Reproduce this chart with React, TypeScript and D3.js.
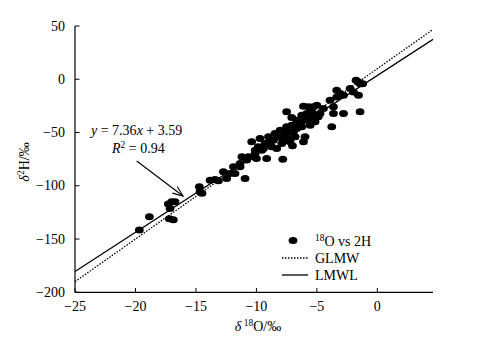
import React from "react";
import * as d3 from "d3";

const xTicks = [-25, -20, -15, -10, -5, 0];
const yTicks = [50, 0, -50, -100, -150, -200];

const d18O = [
  -19.68, -18.85, -17.28, -17.0, -16.73, -17.14, -17.2, -16.87, -14.72, -14.66,
  -14.5, -13.83, -13.42, -13.14, -12.73, -12.46, -12.18, -11.9, -11.77, -11.35,
  -11.2, -10.94, -10.8, -10.39, -10.25, -10.1, -10.0, -9.84, -9.7, -9.56,
  -9.28, -9.15, -9.0, -8.73, -8.6, -8.32, -8.46, -8.04, -7.9, -7.82,
  -7.63, -7.5, -7.5, -7.35, -7.22, -7.08, -7.08, -7.02, -6.8, -6.67,
  -6.39, -6.25, -6.11, -6.11, -5.98, -5.98, -5.84, -5.7, -5.56, -5.43,
  -5.15, -5.15, -5.01, -4.74, -4.46, -3.91, -3.77, -3.63, -3.63, -3.36,
  -3.36, -2.8, -2.8, -2.25, -1.98, -1.76, -1.56, -1.43, -1.56, -1.43,
  -1.21, -8.87, -9.42, -10.1, -7.77, -6.67, -5.56, -4.88, -6.25, -5.29,
  -7.22, -6.94, -7.5, -8.18, -11.35, -10.66, -3.08,
];
const d2H = [
  -141.6, -129.1, -117.2, -115.0, -115.0, -121.3, -131.0, -132.0, -101.0, -105.6,
  -107.0, -94.7, -94.0, -95.3, -86.9, -93.1, -88.4, -82.2, -88.4, -79.0,
  -72.8, -93.1, -75.9, -58.75, -72.8, -69.7, -74.4, -63.4, -55.6, -66.6,
  -60.3, -74.4, -54.0, -63.4, -57.2, -65.0, -50.9, -47.8, -60.3, -75.0,
  -50.9, -30.6, -44.7, -55.6, -49.4, -43.1, -35.9, -62.5, -54.0, -46.3,
  -41.6, -44.7, -25.3, -58.75, -38.4, -54.0, -32.2, -25.9, -36.9, -30.6,
  -33.75, -40.0, -24.4, -32.2, -27.5, -19.7, -44.7, -32.2, -25.9, -10.3,
  -16.6, -32.2, -15.0, -8.75, -11.9, -0.9, -2.5, -4.1, -15.0, -30.6,
  -4.1, -58.75, -65.0, -66.6, -57.2, -38.4, -43.1, -35.3, -33.75, -25.9,
  -58.75, -49.4, -49.4, -54.0, -82.2, -72.8, -13.4,
];

const lmwl = { slope: 7.36, intercept: 3.59 };
const gmwl = { slope: 8, intercept: 10 };

const FONT = "'Liberation Serif', 'Times New Roman', serif";

export default function App() {
  const W = 494, H = 355;
  const x = d3.scaleLinear().domain([-25, 4.6]).range([75, 433]);
  const y = d3.scaleLinear().domain([-200, 50]).range([292.3, 26]);
  const xEnds = [-25, 4.6];
  const lmwlPath = d3.line<number>().x((d) => x(d)).y((d) => y(lmwl.slope * d + lmwl.intercept))(xEnds);
  const gmwlPath = d3.line<number>().x((d) => x(d)).y((d) => y(gmwl.slope * d + gmwl.intercept))(xEnds);

  const a0 = [136.7, 161], a1 = [183, 196];
  const ang = Math.atan2(a1[1] - a0[1], a1[0] - a0[0]);
  const hl = 11, ha = 0.38;
  const h1 = [a1[0] - hl * Math.cos(ang - ha), a1[1] - hl * Math.sin(ang - ha)];
  const h2 = [a1[0] - hl * Math.cos(ang + ha), a1[1] - hl * Math.sin(ang + ha)];

  const fmt = (t: number) => (t < 0 ? "\u2212" + Math.abs(t) : String(t));

  return (
    <svg width={W} height={H} style={{ position: "absolute", left: 0, top: 0, background: "#fff", fontFamily: FONT }}>
      <rect width={W} height={H} fill="#fff" />
      <path d={gmwlPath || ""} stroke="#000" strokeWidth={1.3} strokeDasharray="1.5,1.5" fill="none" />
      <path d={lmwlPath || ""} stroke="#000" strokeWidth={1.2} fill="none" />
      {d18O.map((v, i) => (
        <ellipse key={i} cx={x(v)} cy={y(d2H[i])} rx={4.4} ry={3.5} fill="#000" />
      ))}
      <line x1={75} x2={433} y1={292.3} y2={292.3} stroke="#000" strokeWidth={1.2} />
      <line x1={75} x2={75} y1={26} y2={292.3} stroke="#000" strokeWidth={1.2} />
      {xTicks.map((t) => (
        <g key={"x" + t}>
          <line x1={x(t)} x2={x(t)} y1={292.3} y2={288} stroke="#000" strokeWidth={1} />
          <text x={x(t)} y={311} fontSize={14} textAnchor="middle">{fmt(t)}</text>
        </g>
      ))}
      {yTicks.map((t) => (
        <g key={"y" + t}>
          <line x1={75} x2={79.5} y1={y(t)} y2={y(t)} stroke="#000" strokeWidth={1} />
          <text x={65} y={y(t) + 4.5} fontSize={14} textAnchor="end">{fmt(t)}</text>
        </g>
      ))}
      <text x={258} y={331} fontSize={14} textAnchor="middle">
        <tspan fontStyle="italic">δ</tspan>
        <tspan fontSize={9.5} dy={-5}> 18</tspan>
        <tspan dy={5}>O/‰</tspan>
      </text>
      <text transform="translate(29,162) rotate(-90)" fontSize={14} textAnchor="middle">
        <tspan fontStyle="italic">δ</tspan>
        <tspan fontSize={9.5} dy={-5}>2</tspan>
        <tspan dy={5}>H/‰</tspan>
      </text>
      <text x={91} y={135} fontSize={14}>
        <tspan fontStyle="italic">y</tspan> = 7.36<tspan fontStyle="italic">x</tspan> + 3.59
      </text>
      <text x={112} y={153} fontSize={14}>
        <tspan fontStyle="italic">R</tspan>
        <tspan fontSize={9.5} dy={-5}>2</tspan>
        <tspan dy={5}> = 0.94</tspan>
      </text>
      <line x1={a0[0]} y1={a0[1]} x2={a1[0]} y2={a1[1]} stroke="#000" strokeWidth={1.1} />
      <polyline points={`${h1[0]},${h1[1]} ${a1[0]},${a1[1]} ${h2[0]},${h2[1]}`} fill="none" stroke="#000" strokeWidth={1.1} />
      <ellipse cx={293} cy={240.5} rx={4.4} ry={3.5} fill="#000" />
      <text x={315} y={246} fontSize={14}>
        <tspan fontSize={9.5} dy={-5}>18</tspan>
        <tspan dy={5}>O vs 2H</tspan>
      </text>
      <line x1={282} x2={308} y1={258} y2={258} stroke="#000" strokeWidth={1.3} strokeDasharray="1.5,1.5" />
      <text x={315} y={263} fontSize={14}>GLMW</text>
      <line x1={282} x2={308} y1={275} y2={275} stroke="#000" strokeWidth={1.3} />
      <text x={315} y={280} fontSize={14}>LMWL</text>
    </svg>
  );
}
